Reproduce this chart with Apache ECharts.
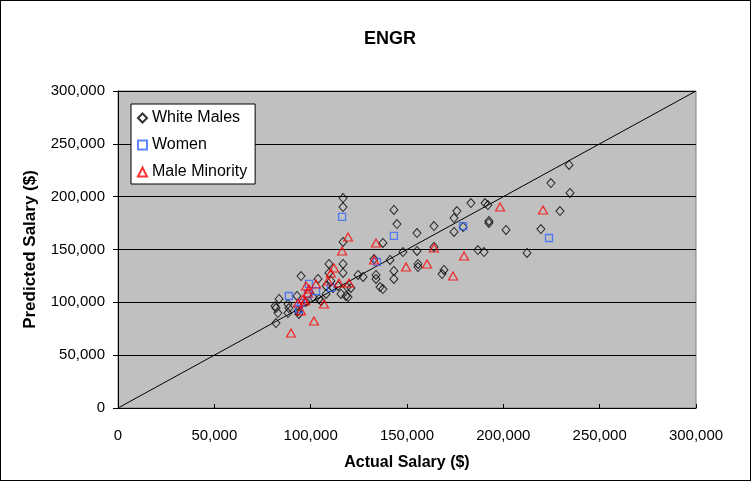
<!DOCTYPE html>
<html>
<head>
<meta charset="utf-8">
<script src="https://cdn.jsdelivr.net/npm/echarts@6/dist/echarts.min.js"></script>
<style>
    html, body { margin: 0; padding: 0; background: #fff; }
    #main { width: 751px; height: 481px; box-sizing: border-box; border: 1px solid #000; }
</style>
</head>
<body>
<div id="main"></div>
<script>
// 数据：实际工资 / 预测工资
var whiteMales = [
    [82000, 80400], [82000, 94600], [83600, 103200], [83000, 89900], [81500, 96500],
    [88200, 98400], [88700, 94600], [88200, 89900], [93400, 91800], [93900, 89000],
    [92900, 106000], [95000, 124900], [97600, 100300], [101200, 105000], [104300, 103200],
    [105400, 101300], [103800, 122100], [108000, 115500], [108000, 107900], [109500, 127800],
    [109500, 136300], [110500, 120200], [111600, 113600], [114200, 115500], [115700, 107900],
    [118300, 106000], [118900, 114500], [119400, 105000], [120900, 113600], [116800, 198700],
    [116800, 190200], [116800, 157100], [116800, 136300], [116800, 127800], [124600, 125900],
    [127200, 124000], [132900, 141000], [133900, 125900], [133900, 122100], [136000, 114500],
    [137500, 112600], [137500, 156200], [141200, 140100], [143200, 187400], [144800, 174100],
    [143200, 129700], [143200, 122100], [147900, 147600], [155200, 165600], [155200, 148600],
    [155700, 136300], [155700, 133400], [164000, 172200], [164000, 152400], [169200, 130600],
    [168200, 126800], [174400, 166600], [174400, 179800], [175900, 186400], [179100, 171300],
    [183200, 194000], [186800, 149500], [190000, 147600], [190500, 194000], [192000, 192100],
    [192500, 175100], [192500, 177000], [201400, 168500], [212300, 146700], [219500, 169400],
    [224700, 212900], [229400, 186400], [234100, 230000], [234600, 203500]
];
var women = [
    [116300, 180800], [143200, 162800], [179100, 172200], [223700, 160900], [88700, 106000],
    [99100, 117400], [102800, 110700], [98600, 107900], [110500, 113600], [95000, 99400],
    [93900, 93700], [134400, 138200]
];
var maleMinority = [
    [89800, 71000], [101700, 82300], [106900, 98400], [95000, 91800], [93400, 99400],
    [96000, 103200], [97100, 101300], [98600, 108800], [97600, 115500], [99100, 112600],
    [102800, 117400], [109000, 120200], [110500, 127800], [112100, 132500], [114700, 118300],
    [119900, 118300], [116300, 148600], [119400, 161800], [133900, 156200], [132900, 140100],
    [198300, 190200], [220600, 187400], [164000, 151400], [179600, 143900], [160400, 136300],
    [149500, 133400], [173900, 124900]
];
var diagLine = [[0, 0], [300000, 300000]];
var axisMin = 0;
var axisMax = 300000;
var axisStep = 50000;

function fmtNum(v) {
    return String(v).replace(/\B(?=(\d{3})+(?!\d))/g, ',');
}

var myChart = echarts.init(document.getElementById('main'));
var fontFam = '"Liberation Sans", Arial, sans-serif';

var option = {
    animation: false,
    textStyle: { fontFamily: fontFam },
    title: {
        text: 'ENGR',
        left: 358,
        top: 24,
        textStyle: { fontSize: 18, fontWeight: 'bold', color: '#000', fontFamily: fontFam }
    },
    legend: {
        orient: 'vertical',
        left: 130,
        top: 103,
        width: 124,
        padding: [6, 8, 4, 6],
        itemGap: 11,
        itemWidth: 9,
        itemHeight: 9,
        backgroundColor: '#fff',
        borderColor: '#000',
        borderWidth: 1,
        textStyle: { fontSize: 16, color: '#000', fontFamily: fontFam },
        data: ['White Males', 'Women', 'Male Minority']
    },
    grid: {
        left: 117,
        top: 90,
        width: 578,
        height: 317,
        show: true,
        backgroundColor: '#C0C0C0',
        borderColor: '#808080',
        borderWidth: 1
    },
    xAxis: {
        type: 'value',
        min: axisMin,
        max: axisMax,
        interval: axisStep,
        name: 'Actual Salary ($)',
        nameLocation: 'middle',
        nameGap: 47,
        nameTextStyle: { fontSize: 16, fontWeight: 'bold', color: '#000', fontFamily: fontFam },
        axisLine: { lineStyle: { color: '#000', width: 1 } },
        axisTick: { show: true, inside: true, length: 4, lineStyle: { color: '#000' } },
        axisLabel: { fontSize: 15, color: '#000', margin: 20, formatter: fmtNum },
        splitLine: { show: false }
    },
    yAxis: {
        type: 'value',
        min: axisMin,
        max: axisMax,
        interval: axisStep,
        name: 'Predicted Salary ($)',
        nameLocation: 'middle',
        nameGap: 79,
        nameTextStyle: { fontSize: 17, fontWeight: 'bold', color: '#000', fontFamily: fontFam },
        axisLine: { show: true, lineStyle: { color: '#000', width: 1 } },
        axisTick: { show: true, inside: false, length: 5, lineStyle: { color: '#000' } },
        axisLabel: { fontSize: 15, color: '#000', margin: 13, formatter: fmtNum },
        splitLine: { show: true, lineStyle: { color: '#000', width: 1 } }
    },
    series: [
        {
            name: 'diag',
            type: 'line',
            data: diagLine,
            symbol: 'none',
            silent: true,
            lineStyle: { color: '#000', width: 1 },
            z: 1
        },
        {
            name: 'White Males',
            type: 'scatter',
            data: whiteMales,
            symbol: 'diamond',
            symbolSize: [8, 9],
            itemStyle: { color: 'rgba(0,0,0,0)', borderColor: '#000', borderWidth: 1 },
            z: 2
        },
        {
            name: 'Women',
            type: 'scatter',
            data: women,
            symbol: 'rect',
            symbolSize: 7,
            itemStyle: { color: 'rgba(0,0,0,0)', borderColor: '#3366FF', borderWidth: 1.3 },
            z: 3
        },
        {
            name: 'Male Minority',
            type: 'scatter',
            data: maleMinority,
            symbol: 'triangle',
            symbolSize: [9, 8],
            itemStyle: { color: 'rgba(0,0,0,0)', borderColor: '#FF0000', borderWidth: 1.2 },
            z: 4
        }
    ]
};

myChart.setOption(option);
</script>
</body>
</html>
